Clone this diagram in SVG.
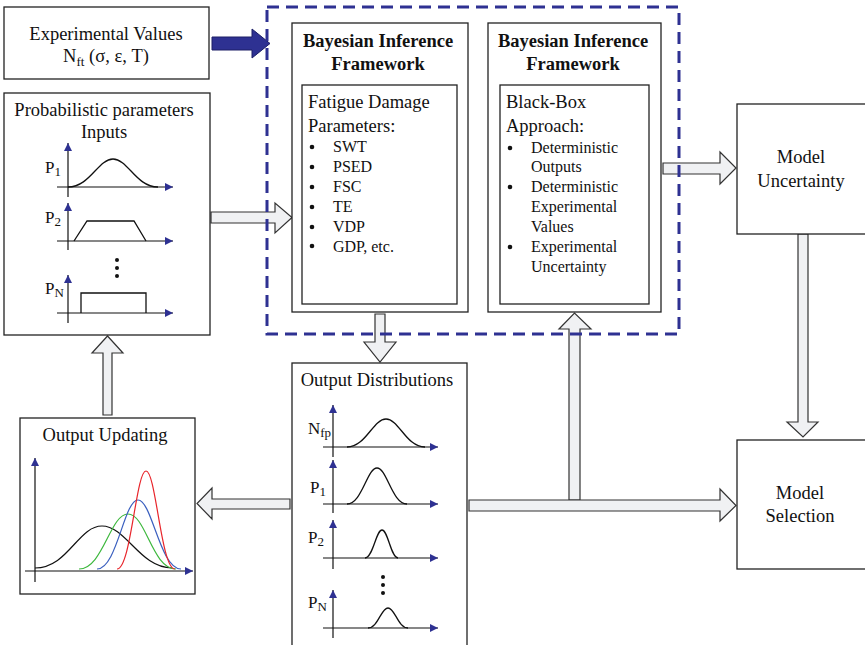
<svg xmlns="http://www.w3.org/2000/svg" width="865" height="645" viewBox="0 0 865 645">
<defs>
<style>
.box{fill:#fff;stroke:#222;stroke-width:1.3}
.t{font-family:"Liberation Serif","Times New Roman",serif;font-size:18.5px;fill:#111}
.b{font-weight:bold}
.s{font-size:16px}
.lb{font-size:17px}
.c{text-anchor:middle}
.ga{fill:#f0f1f3;stroke:#333;stroke-width:1.2}
.ax{stroke:#111;stroke-width:1.2;fill:none;marker-end:url(#ah)}
.cv{fill:none;stroke:#111;stroke-width:1.3}
.dot{fill:#111}
.sub{font-size:13px}
</style>
<marker id="ah" viewBox="0 0 10 10" refX="10" refY="5" markerUnits="userSpaceOnUse" markerWidth="10" markerHeight="8" orient="auto">
<path d="M0,0 L10,5 L0,10 z" fill="#2E3192"/>
</marker>
</defs>

<g id="connectors">
<polygon class="ga" points="211,212 275,212 275,203 292,217.5 275,233 275,223 211,223"/>
<polygon class="ga" points="375,314 385,314 385,342 396,342 380,362 364,342 375,342"/>
<polygon class="ga" points="103,415 103,353 92,353 107.5,336 123,353 112,353 112,415"/>
<polygon class="ga" points="290,499 212,499 212,488 197,503.5 212,519 212,509 290,509"/>
<polygon class="ga" points="569,500 569,329 559,329 574.5,313 591,329 580,329 580,500"/>
<polygon class="ga" points="469,500 720,500 720,489 736,505.5 720,521 720,511 469,511"/>
<polygon class="ga" points="663,163 720,163 720,152 736,168 720,184 720,174 663,174"/>
<polygon class="ga" points="798,234 808,234 808,422 818,422 803,437 787,422 798,422"/>
<polygon points="212,37 252,37 252,29 270,43.5 252,58 252,50 212,50" fill="#2E3192" stroke="#1c1f66" stroke-width="1"/>
</g>

<g id="experimental">
<rect class="box" x="4" y="7" width="205" height="72"/>
<text class="t c" x="106" y="40">Experimental Values</text>
<text class="t c" x="106" y="62">N<tspan font-size="13" dy="4">ft</tspan><tspan dy="-4"> (σ, ε, T)</tspan></text>
</g>

<g id="inputs">
<rect class="box" x="4" y="93" width="206" height="242"/>
<text class="t c" x="104" y="116">Probabilistic parameters</text>
<text class="t c" x="104" y="138">Inputs</text>
<line class="ax" x1="68" y1="197" x2="68" y2="143"/>
<line class="ax" x1="57" y1="187" x2="173" y2="187"/>
<path class="cv" d="M68,187 C90,187 98,159 113,159 C128,159 136,187 158,187"/>
<text class="t lb" x="45" y="173">P<tspan class="sub" dy="3">1</tspan></text>
<line class="ax" x1="68" y1="250" x2="68" y2="203"/>
<line class="ax" x1="57" y1="241" x2="173" y2="241"/>
<polyline class="cv" points="74,241 87,221 134,221 146,241"/>
<text class="t lb" x="45" y="223">P<tspan class="sub" dy="3">2</tspan></text>
<circle class="dot" cx="117" cy="260" r="2"/>
<circle class="dot" cx="117" cy="268" r="2"/>
<circle class="dot" cx="117" cy="276" r="2"/>
<line class="ax" x1="68" y1="323" x2="68" y2="275"/>
<line class="ax" x1="57" y1="313" x2="173" y2="313"/>
<polyline class="cv" points="81,313 81,293 146,293 146,313"/>
<text class="t lb" x="45" y="294">P<tspan class="sub" dy="3">N</tspan></text>
</g>

<g id="bayes-left">
<rect class="box" x="292" y="23" width="176" height="289"/>
<text class="t b c" x="378" y="47">Bayesian Inference</text>
<text class="t b c" x="378" y="70">Framework</text>
<rect class="box" x="302" y="85" width="155" height="219"/>
<text class="t" x="308" y="108">Fatigue Damage</text>
<text class="t" x="308" y="132">Parameters:</text>
<g class="dot">
<circle cx="312" cy="147" r="2.3"/><circle cx="312" cy="167" r="2.3"/><circle cx="312" cy="187" r="2.3"/>
<circle cx="312" cy="207" r="2.3"/><circle cx="312" cy="227" r="2.3"/><circle cx="312" cy="246" r="2.3"/>
</g>
<text class="t s" x="333" y="152">SWT</text>
<text class="t s" x="333" y="172">PSED</text>
<text class="t s" x="333" y="192">FSC</text>
<text class="t s" x="333" y="212">TE</text>
<text class="t s" x="333" y="232">VDP</text>
<text class="t s" x="333" y="252">GDP, etc.</text>
</g>

<g id="bayes-right">
<rect class="box" x="488" y="23" width="173" height="289"/>
<text class="t b c" x="573" y="47">Bayesian Inference</text>
<text class="t b c" x="573" y="70">Framework</text>
<rect class="box" x="500" y="85" width="149" height="219"/>
<text class="t" x="506" y="108">Black-Box</text>
<text class="t" x="506" y="132">Approach:</text>
<g class="dot">
<circle cx="510" cy="148" r="2.3"/><circle cx="510" cy="187" r="2.3"/><circle cx="510" cy="247" r="2.3"/>
</g>
<text class="t s" x="531" y="153">Deterministic</text>
<text class="t s" x="531" y="172">Outputs</text>
<text class="t s" x="531" y="192">Deterministic</text>
<text class="t s" x="531" y="212">Experimental</text>
<text class="t s" x="531" y="232">Values</text>
<text class="t s" x="531" y="252">Experimental</text>
<text class="t s" x="531" y="272">Uncertainty</text>
</g>

<g id="bayesian-frame">
<rect x="267" y="7" width="412" height="327" fill="none" stroke="#2E3192" stroke-width="3" stroke-dasharray="12,7"/>
</g>

<g id="model-uncertainty">
<rect class="box" x="737" y="104" width="135" height="130"/>
<text class="t c" x="801" y="163">Model</text>
<text class="t c" x="801" y="187">Uncertainty</text>
</g>

<g id="model-selection">
<rect class="box" x="737" y="440" width="135" height="129"/>
<text class="t c" x="800" y="499">Model</text>
<text class="t c" x="800" y="522">Selection</text>
</g>

<g id="output-distributions">
<rect class="box" x="292" y="363" width="175" height="300"/>
<text class="t c" x="377" y="386">Output Distributions</text>
<line class="ax" x1="333" y1="457" x2="333" y2="405"/>
<line class="ax" x1="323" y1="447" x2="438" y2="447"/>
<path class="cv" d="M347,447 C366,447 373,419 386,419 C399,419 406,447 425,447"/>
<text class="t lb" x="308" y="434">N<tspan class="sub" dy="3">fp</tspan></text>
<line class="ax" x1="333" y1="513" x2="333" y2="460"/>
<line class="ax" x1="323" y1="504" x2="438" y2="504"/>
<path class="cv" d="M347,504 C362,504 367,468 377,468 C387,468 392,504 407,504"/>
<text class="t lb" x="310" y="493">P<tspan class="sub" dy="3">1</tspan></text>
<line class="ax" x1="333" y1="569" x2="333" y2="520"/>
<line class="ax" x1="323" y1="558" x2="438" y2="558"/>
<path class="cv" d="M365,558 C373,558 376,530 382,530 C388,530 391,558 398,558"/>
<text class="t lb" x="308" y="543">P<tspan class="sub" dy="3">2</tspan></text>
<circle class="dot" cx="383" cy="577" r="2"/>
<circle class="dot" cx="383" cy="585" r="2"/>
<circle class="dot" cx="383" cy="593" r="2"/>
<line class="ax" x1="333" y1="638" x2="333" y2="590"/>
<line class="ax" x1="323" y1="628" x2="438" y2="628"/>
<path class="cv" d="M368,628 C378,628 381,608 388,608 C395,608 398,628 408,628"/>
<text class="t lb" x="308" y="608">P<tspan class="sub" dy="3">N</tspan></text>
</g>

<g id="output-updating">
<rect class="box" x="20" y="418" width="175" height="176"/>
<text class="t c" x="105" y="441">Output Updating</text>
<line class="ax" x1="35" y1="582" x2="35" y2="458"/>
<line class="ax" x1="25" y1="571" x2="193" y2="571"/>
<path fill="none" stroke="#111" stroke-width="1.2" d="M35,568 C68,568 78,526 102,526 C126,526 140,568 172,568"/>
<path fill="none" stroke="#3db83d" stroke-width="1.2" d="M79,569 C103,569 110,514 128,514 C146,514 152,569 176,569"/>
<path fill="none" stroke="#3a5fbf" stroke-width="1.2" d="M97,569 C117,569 124,500 138,500 C152,500 160,569 181,569"/>
<path fill="none" stroke="#e8252b" stroke-width="1.2" d="M117,569 C131,569 136,471 146,471 C156,471 161,569 175,569"/>
</g>
</svg>
